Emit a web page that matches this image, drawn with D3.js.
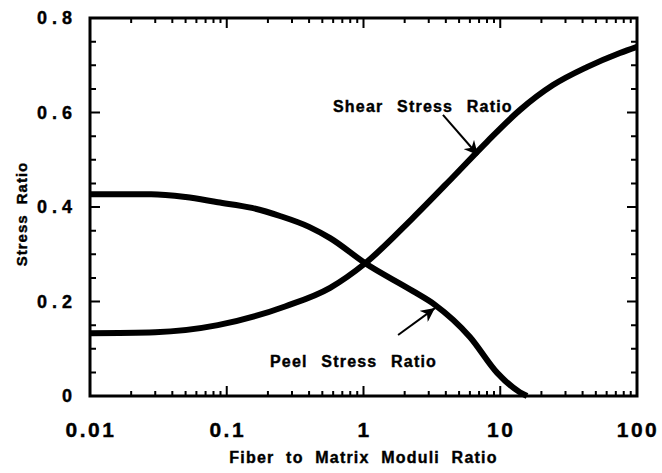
<!DOCTYPE html>
<html>
<head>
<meta charset="utf-8">
<script src="https://cdn.jsdelivr.net/npm/d3@7"></script>
<style>
  body { margin: 0; background: #fff; }
  text { font-family: "Liberation Sans", Arial, Helvetica, sans-serif; font-weight: bold; fill: #000; stroke: #000; stroke-width: 0.4px; }
</style>
</head>
<body>
<div id="chart"></div>
<script>
// values
var shearRatio = [0.01, 0.03, 0.086, 0.27, 0.57, 1.03, 2.3, 4.5, 8.0, 13.9, 24.3, 43, 75, 100];
var shearStress = [0.133, 0.135, 0.150, 0.190, 0.229, 0.281, 0.377, 0.463, 0.538, 0.605, 0.658, 0.696, 0.726, 0.739];

var peelRatio = [0.01, 0.028, 0.05, 0.086, 0.153, 0.245, 0.4, 0.57, 1.03, 2.3, 3.33, 6.0, 9.5, 13.9, 15.7];
var peelStress = [0.427, 0.427, 0.421, 0.410, 0.398, 0.381, 0.358, 0.334, 0.281, 0.222, 0.193, 0.125, 0.049, 0.008, 0.0];

var xTickValues = [0.01, 0.1, 1, 10, 100];
var xTickLabels = ["0.01", "0.1", "1", "10", "100"];
var yTickValues = [0, 0.2, 0.4, 0.6, 0.8];
var yTickLabels = ["0", "0.2", "0.4", "0.6", "0.8"];

// chart size
var svgWidth = 662;
var svgHeight = 473;
var margin = { top: 18, right: 25, bottom: 77, left: 90 };
var width = svgWidth - margin.left - margin.right;
var height = svgHeight - margin.top - margin.bottom;

var svg = d3.select("#chart")
  .append("svg")
  .attr("width", svgWidth)
  .attr("height", svgHeight);

var chartGroup = svg.append("g")
  .attr("transform", `translate(${margin.left}, ${margin.top})`);

var xScale = d3.scaleLog().domain([0.01, 100]).range([0, width]);
var yScale = d3.scaleLinear().domain([0, 0.8]).range([height, 0]);

// minor ticks
var xMinor = [];
[0.01, 0.1, 1, 10].forEach(function(d) {
  for (var k = 2; k <= 9; k++) xMinor.push(d * k);
});
var yMinor = [0.05, 0.1, 0.15, 0.25, 0.3, 0.35, 0.45, 0.5, 0.55, 0.65, 0.7, 0.75];

// inward ticks on all four sides, one path
var tickPath = "";
function addX(values, len) {
  values.forEach(function(v) {
    var x = xScale(v);
    tickPath += `M${x},${height}V${height - len}M${x},0V${len}`;
  });
}
function addY(values, len) {
  values.forEach(function(v) {
    var y = yScale(v);
    tickPath += `M0,${y}H${len}M${width},${y}H${width - len}`;
  });
}
addX(xTickValues, 10);
addX(xMinor, 5);
addY(yTickValues, 10);
addY(yMinor, 6);

chartGroup.append("path")
  .attr("d", tickPath)
  .attr("fill", "none")
  .style("stroke", "#000")
  .style("stroke-width", "2px");

// frame
chartGroup.append("rect")
  .attr("x", 0)
  .attr("y", 0)
  .attr("width", width)
  .attr("height", height)
  .attr("fill", "none")
  .attr("stroke", "#000")
  .attr("stroke-width", 3);

// tick labels
chartGroup.selectAll(".xlabel")
  .data(xTickValues)
  .enter()
  .append("text")
  .attr("x", d => xScale(d) + 1)
  .attr("y", height + 41)
  .attr("text-anchor", "middle")
  .style("font-size", "21px")
  .style("letter-spacing", "2.5px")
  .text((d, i) => xTickLabels[i]);

chartGroup.selectAll(".ylabel")
  .data(yTickValues)
  .enter()
  .append("text")
  .attr("x", -13)
  .attr("y", d => yScale(d) + 6)
  .attr("text-anchor", "end")
  .style("font-size", "18px")
  .style("letter-spacing", "5px")
  .text((d, i) => yTickLabels[i]);

// axis titles
chartGroup.append("text")
  .attr("x", width / 2)
  .attr("y", height + 67)
  .attr("text-anchor", "middle")
  .style("font-size", "16px")
  .style("letter-spacing", "1.2px")
  .style("word-spacing", "6px")
  .text("Fiber to Matrix Moduli Ratio");

chartGroup.append("text")
  .attr("transform", "rotate(-90)")
  .attr("x", -(height / 2) - 7)
  .attr("y", -63)
  .attr("text-anchor", "middle")
  .style("font-size", "15px")
  .style("letter-spacing", "1px")
  .style("word-spacing", "5px")
  .text("Stress Ratio");

// curves
var line = d3.line()
  .x(d => xScale(d[0]))
  .y(d => yScale(d[1]))
  .curve(d3.curveMonotoneX);

chartGroup.append("path")
  .datum(d3.zip(shearRatio, shearStress))
  .attr("d", line)
  .attr("fill", "none")
  .attr("stroke", "#000")
  .attr("stroke-width", 6);

chartGroup.append("path")
  .datum(d3.zip(peelRatio, peelStress))
  .attr("d", line)
  .attr("fill", "none")
  .attr("stroke", "#000")
  .attr("stroke-width", 6);

// annotations (anchors in data units)
svg.append("defs").append("marker")
  .attr("id", "arrow")
  .attr("viewBox", "0 0 10 10")
  .attr("refX", 10)
  .attr("refY", 5)
  .attr("markerWidth", 7)
  .attr("markerHeight", 7)
  .attr("markerUnits", "strokeWidth")
  .attr("orient", "auto")
  .append("path")
  .attr("d", "M0,0 L10,5 L0,10 L3,5 Z")
  .attr("fill", "#000");

var notes = [
  { text: "Shear Stress Ratio", at: [0.598, 0.601], from: [3.81, 0.595], to: [6.87, 0.510] },
  { text: "Peel Stress Ratio", at: [0.207, 0.061], from: [1.79, 0.129], to: [3.33, 0.186] }
];

notes.forEach(function(n) {
  chartGroup.append("text")
    .attr("x", xScale(n.at[0]))
    .attr("y", yScale(n.at[1]))
    .style("font-size", "16px")
    .style("letter-spacing", "1.2px")
    .style("word-spacing", "8px")
    .text(n.text);

  chartGroup.append("line")
    .attr("x1", xScale(n.from[0]))
    .attr("y1", yScale(n.from[1]))
    .attr("x2", xScale(n.to[0]))
    .attr("y2", yScale(n.to[1]))
    .attr("stroke", "#000")
    .attr("stroke-width", 2)
    .attr("marker-end", "url(#arrow)");
});
</script>
</body>
</html>
